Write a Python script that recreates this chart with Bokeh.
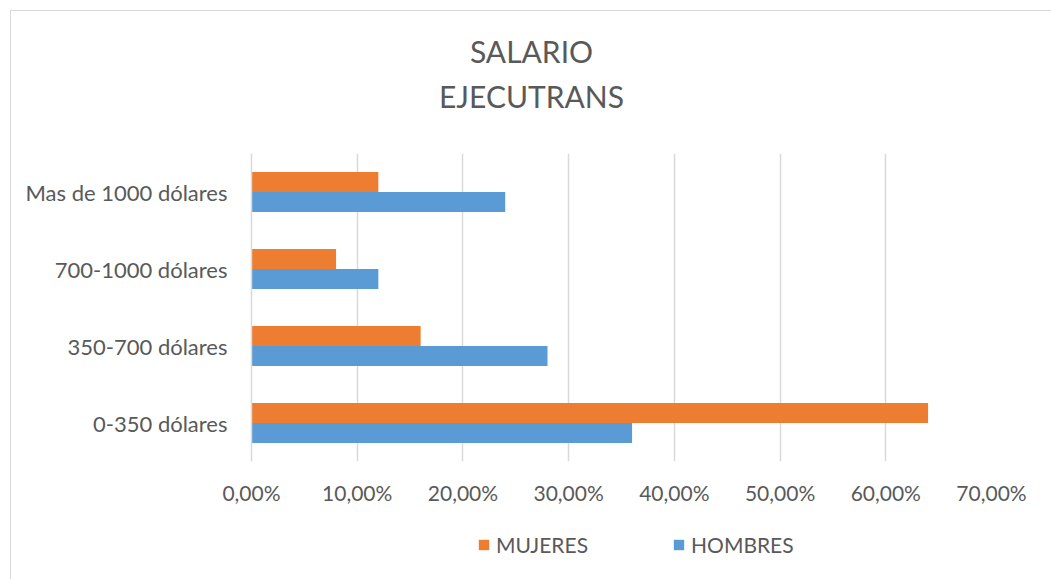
from bokeh.plotting import figure
from bokeh.models import (FactorRange, Range1d, FixedTicker, CustomJSTickFormatter,
                          Legend, LegendItem, ColumnDataSource)
from bokeh.core.properties import value
from bokeh.layouts import column
from bokeh.transform import dodge
from bokeh.embed import file_html
from bokeh.resources import INLINE

categories = ["0-350 dólares", "350-700 dólares", "700-1000 dólares", "Mas de 1000 dólares"]
mujeres = [0.64, 0.16, 0.08, 0.12]
hombres = [0.36, 0.28, 0.12, 0.24]
x_ticks = [0.0, 0.1, 0.2, 0.3, 0.4, 0.5, 0.6, 0.7]
series_names = ["MUJERES", "HOMBRES"]
title_lines = ["SALARIO", "EJECUTRANS"]

FONT = "Lato"
TXT = "#595959"
ORANGE = "#ED7D31"
BLUE = "#5B9BD5"
BL, BR = 240, 60   # left / right borders shared by all stacked figures

# ---- title strip (frame is aligned with the chart frame; x in page pixels) ----
pt = figure(width=1040, height=120, x_range=Range1d(251, 991), y_range=Range1d(120, 0),
            output_backend="svg", toolbar_location=None,
            min_border_left=BL, min_border_right=BR, min_border_top=0, min_border_bottom=0)
pt.axis.visible = False
pt.grid.grid_line_color = None
pt.outline_line_color = None
pt.text(x=[531, 531], y=[39, 84], text=title_lines, text_align="center",
        text_baseline="middle", text_font=value(FONT), text_font_size="30px",
        text_color=TXT)

# ---- main chart ----
src = ColumnDataSource(dict(cat=categories, mujeres=mujeres, hombres=hombres))

p = figure(width=1040, height=389, y_range=FactorRange(factors=categories, range_padding=0),
           x_range=Range1d(0, 0.7), output_backend="svg", toolbar_location=None,
           min_border_left=BL, min_border_right=BR, min_border_top=22, min_border_bottom=59)
p.border_fill_color = "white"

r_m = p.hbar(y=dodge("cat", 0.13, range=p.y_range), right="mujeres", left=0, height=0.26,
             source=src, fill_color=ORANGE, line_color=None)
r_h = p.hbar(y=dodge("cat", -0.13, range=p.y_range), right="hombres", left=0, height=0.26,
             source=src, fill_color=BLUE, line_color=None)

p.outline_line_color = None
p.ygrid.grid_line_color = None
p.xgrid.grid_line_color = "#d9d9d9"
p.xgrid.grid_line_width = 1.5
p.xaxis.ticker = FixedTicker(ticks=x_ticks)
p.xaxis.formatter = CustomJSTickFormatter(code="return (tick*100).toFixed(2).replace('.', ',') + '%';")
p.xaxis.axis_line_color = None
p.xaxis.major_tick_line_color = None
p.xaxis.minor_tick_line_color = None
p.xaxis.major_label_text_font = FONT
p.xaxis.major_label_text_font_size = "21px"
p.xaxis.major_label_text_color = TXT
p.xaxis.major_label_standoff = 12

p.yaxis.axis_line_color = "#d9d9d9"
p.yaxis.axis_line_width = 1.5
p.yaxis.major_tick_line_color = None
p.yaxis.minor_tick_line_color = None
p.yaxis.major_label_text_font = FONT
p.yaxis.major_label_text_font_size = "22px"
p.yaxis.major_label_text_color = TXT
p.yaxis.major_label_standoff = 18

# ---- legend strip ----
pl = figure(width=1040, height=59, x_range=Range1d(2, 3), y_range=Range1d(0, 1),
            output_backend="svg", toolbar_location=None,
            min_border_left=BL, min_border_right=BR, min_border_top=0, min_border_bottom=0)
pl.axis.visible = False
pl.grid.grid_line_color = None
pl.outline_line_color = None
pl.border_fill_color = None
pl.background_fill_color = None
# zero-width proxies of the two series, only used for the legend swatches
lm = pl.hbar(y=-5, right="mujeres", left="mujeres", height=0.1, source=src,
             fill_color=ORANGE, line_color=None)
lh = pl.hbar(y=-5, right="hombres", left="hombres", height=0.1, source=src,
             fill_color=BLUE, line_color=None)
legend = Legend(items=[LegendItem(label=series_names[0], renderers=[lm]),
                       LegendItem(label=series_names[1], renderers=[lh])],
                orientation="horizontal", location=(226, 22),
                label_text_font=FONT, label_text_font_size="21px", label_text_color=TXT,
                glyph_width=13, glyph_height=13, spacing=84, label_standoff=6,
                border_line_color=None, background_fill_alpha=0, padding=0, margin=0)
pl.add_layout(legend, "center")

layout = column(pt, p, pl, spacing=0, margin=(10, 0, 0, 10),
                styles={"border-left": "1px solid #d9d9d9", "border-top": "1px solid #d9d9d9"})

open("out.html", "w").write(file_html(layout, INLINE))
